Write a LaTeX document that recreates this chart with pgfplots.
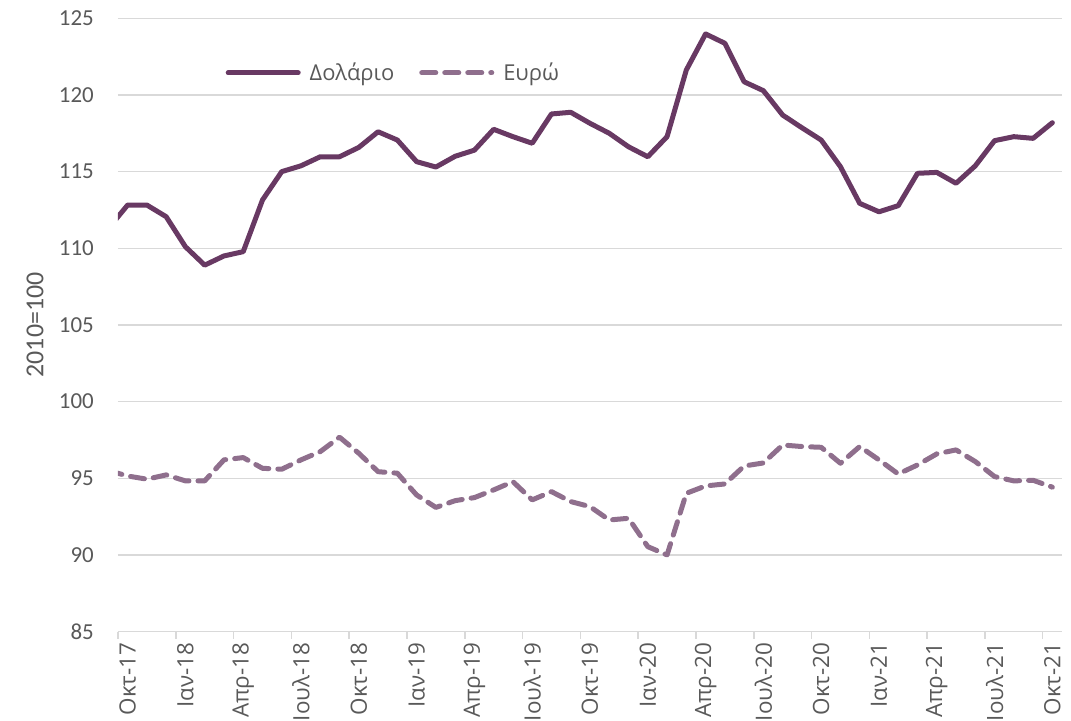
\documentclass[border=0pt]{standalone}
\usepackage{fontspec}
\setmainfont{Carlito}
\newfontfamily\grfont{Open Sans}
\usepackage{pgfplots}
\usepackage{pgfplotstable}
\pgfplotsset{compat=1.18}

\definecolor{dollar}{RGB}{104,57,99}
\definecolor{euro}{RGB}{143,111,141}
\definecolor{gridgray}{RGB}{217,217,217}
\definecolor{txtgray}{RGB}{89,89,89}

% k = months since Oct-17 (k=-1 is Sep-17, clipped at the left edge)
\pgfplotstableread{
k   usd     eur
-1  111.30  95.50
0   112.82  95.15
1   112.82  94.94
2   112.06  95.22
3   110.10  94.83
4   108.90  94.83
5   109.50  96.20
6   109.78  96.35
7   113.15  95.65
8   115.00  95.59
9   115.38  96.20
10  115.97  96.74
11  115.97  97.68
12  116.58  96.63
13  117.60  95.43
14  117.06  95.33
15  115.65  93.91
16  115.30  93.10
17  116.00  93.54
18  116.40  93.74
19  117.76  94.24
20  117.28  94.78
21  116.85  93.59
22  118.76  94.13
23  118.87  93.48
24  118.15  93.15
25  117.50  92.28
26  116.62  92.39
27  115.97  90.54
28  117.28  90.00
29  121.63  94.02
30  123.98  94.50
31  123.37  94.63
32  120.86  95.80
33  120.28  96.00
34  118.69  97.17
35  117.86  97.07
36  117.06  97.02
37  115.32  95.98
38  112.93  97.07
39  112.38  96.20
40  112.78  95.28
41  114.89  95.87
42  114.95  96.59
43  114.24  96.85
44  115.38  96.09
45  117.02  95.11
46  117.28  94.83
47  117.17  94.87
48  118.19  94.42
}\datatable

\begin{document}
\begin{tikzpicture}
\begin{axis}[
    at={(0,0)}, anchor=south west,
    scale only axis,
    width=944bp, height=613.3bp,
    xmin=-0.5, xmax=48.5,
    ymin=85, ymax=125,
    ytick={85,90,...,125},
    xtick={0,3,...,48},
    xticklabels={Οκτ-17,Ιαν-18,Απρ-18,Ιουλ-18,Οκτ-18,Ιαν-19,Απρ-19,Ιουλ-19,Οκτ-19,Ιαν-20,Απρ-20,Ιουλ-20,Οκτ-20,Ιαν-21,Απρ-21,Ιουλ-21,Οκτ-21},
    minor xtick={-0.5,2.5,...,47.5},
    major tick length=0pt,
    minor tick length=7bp,
    tick align=outside,
    xtick pos=bottom, ytick pos=left,
    axis line style={draw=none},
    ymajorgrids,
    grid style={gridgray, line width=1.5bp},
    minor tick style={gridgray, line width=1.5bp},
    /pgf/number format/assume math mode=true,
    yticklabel style={font=\fontsize{23}{23}\selectfont, text=txtgray, anchor=east, inner sep=0pt},
    yticklabel shift=24bp,
    xticklabel style={font=\grfont\fontsize{22.5}{23}\selectfont, text=txtgray, rotate=90, anchor=east, inner sep=0pt},
    xticklabel shift=11bp,
    ylabel={2010=100},
    every axis y label/.style={at={(axis description cs:-0.0879,0.5)}, rotate=90, anchor=center,
        font=\fontsize{26}{26}\selectfont, text=txtgray},
    legend image code/.code={\draw[#1] (0bp,0bp) -- (70bp,0bp);},
    legend style={at={(axis description cs:0.1139,0.911)}, anchor=west, draw=none, fill=none,
        inner sep=0pt, font=\grfont\fontsize{22}{22}\selectfont, text=txtgray,
        /tikz/every odd column/.append style={column sep=7bp},
        /tikz/every even column/.append style={column sep=23bp}},
    legend columns=2,
]
\addplot[dollar, line width=5bp, line join=round, line cap=round] table[x=k, y=usd] {\datatable};
\addlegendentry{Δολάριο}
\addplot[euro, line width=5bp, line join=round, line cap=round, dash pattern=on 14bp off 9bp] table[x=k, y=eur] {\datatable};
\addlegendentry{Ευρώ}
\end{axis}
\pgfresetboundingbox
\useasboundingbox (-118bp,-89.4bp) rectangle (953bp,631.6bp);
\end{tikzpicture}
\end{document}
